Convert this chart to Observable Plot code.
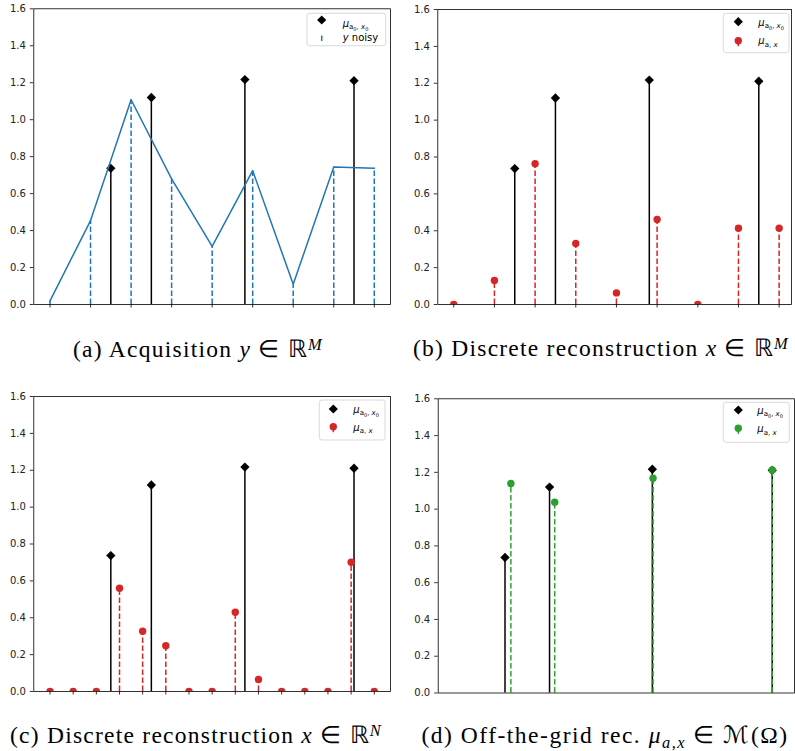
<!DOCTYPE html>
<html><head><meta charset="utf-8">
<script src="https://cdn.jsdelivr.net/npm/d3@7"></script>
<script src="https://cdn.jsdelivr.net/npm/@observablehq/plot@0.6"></script>
<style>
body{margin:0;background:#fff;}
#fig{position:relative;width:795px;height:751px;background:#fff;overflow:hidden;}
.panel{position:absolute;}
.cap{position:absolute;font-family:"Liberation Serif","Times New Roman",serif;font-size:23.5px;line-height:23.5px;white-space:nowrap;color:#000;}
.cap .sup{position:relative;top:-0.45em;font-size:0.7em;}
.cap .sub{position:relative;top:0.3em;font-size:0.7em;}
.cap .bl{display:inline-block;width:0;height:0;vertical-align:baseline;}
</style></head><body><div id="fig"></div>
<script>
// ---- data ----
const gridM = [0, 0.125, 0.25, 0.375, 0.5, 0.625, 0.75, 0.875, 1];
const gridN = [0, 0.0714, 0.1429, 0.2143, 0.2857, 0.3571, 0.4286, 0.5, 0.5714, 0.6429, 0.7143, 0.7857, 0.8571, 0.9286, 1];
const spikePos = [0.1875, 0.3125, 0.601, 0.9375];
const spikeAmp = [0.737, 1.12, 1.217, 1.211];
const yNoisy = [0.02, 0.454, 1.108, 0.68, 0.315, 0.724, 0.11, 0.744, 0.737];
const recM = [0, 0.13, 0.763, 0.331, 0.063, 0.461, 0, 0.414, 0.414];
const recN = [0, 0, 0, 0.56, 0.327, 0.248, 0, 0, 0.43, 0.065, 0, 0, 0, 0.701, 0];
const offPos = [0.204, 0.327, 0.603, 0.9375];
const offAmp = [1.139, 1.038, 1.168, 1.213];
const yTicks = [0, 0.2, 0.4, 0.6, 0.8, 1.0, 1.2, 1.4, 1.6];
const captionHTML = [
  '(a) Acquisition <i>y</i> ∈ ℝ<span class="sup"><i>M</i></span>',
  '(b) Discrete reconstruction <i>x</i> ∈ ℝ<span class="sup"><i>M</i></span>',
  '(c) Discrete reconstruction <i>x</i> ∈ ℝ<span class="sup"><i>N</i></span>',
  '(d) Off-the-grid rec. <i>μ</i><span class="sub"><i>a</i>,<i>x</i></span> ∈ ℳ(Ω)'
];

const BLUE = "#1f77b4", RED = "#d62728", GREEN = "#2ca02c";
const zip = (xs, vs) => xs.map((x, i) => ({x, v: vs[i]}));
const truth = zip(spikePos, spikeAmp);
const acq = zip(gridM, yNoisy);
const rM = zip(gridM, recM);
const rN = zip(gridN, recN);
const off = zip(offPos, offAmp);
const DASH = "5.5,2.5";

const fig = document.getElementById("fig");

function truthMarks() {
  return [
    Plot.ruleX(truth, {x: "x", y1: 0, y2: "v", stroke: "#000", strokeWidth: 1.5}),
    Plot.dot(truth, {x: "x", y: "v", symbol: "diamond2", fill: "#000", stroke: "none", r: 4.2, clip: true})
  ];
}
function recMarks(data, color) {
  return [
    Plot.ruleX(data, {x: "x", y1: 0, y2: "v", stroke: color, strokeWidth: 1.5, strokeDasharray: DASH}),
    Plot.dot(data, {x: "x", y: "v", fill: color, stroke: "none", r: 3.7, clip: true})
  ];
}

function panel({left, top, width, height, m, xDomain, xTicks, marks}) {
  const chart = Plot.plot({
    width, height,
    marginTop: m[0], marginRight: m[1], marginBottom: m[2], marginLeft: m[3],
    style: {fontFamily: "'DejaVu Sans', sans-serif", fontSize: "10px", color: "#000", background: "transparent"},
    x: xTicks ? {domain: xDomain, label: null} : {domain: xDomain, label: null, axis: null},
    y: {domain: [0, 1.6], label: null},
    marks: [
      Plot.axisY({ticks: yTicks, tickFormat: d3.format(".1f"), tickSize: 3.5, tickPadding: 4.5, strokeWidth: 0.8, label: null, fill: "#222"}),
      xTicks ? Plot.axisX({ticks: xTicks, tickFormat: () => "", tickSize: 3.5, strokeWidth: 0.8, label: null}) : null,
      ...marks,
      Plot.frame({stroke: "#000", strokeWidth: 0.8})
    ]
  });
  chart.classList.add("panel");
  chart.style.left = left + "px";
  chart.style.top = top + "px";
  fig.appendChild(chart);
  return chart;
}

function muTrue(t) {
  t.append("tspan").attr("font-style", "italic").text("μ");
  t.append("tspan").attr("font-size", 7).attr("dy", 2.5).text("a");
  t.append("tspan").attr("font-size", 5).attr("dy", 1.5).text("0");
  t.append("tspan").attr("font-size", 7).attr("dy", -1.5).text(", ");
  t.append("tspan").attr("font-size", 7).attr("font-style", "italic").text("x");
  t.append("tspan").attr("font-size", 5).attr("dy", 1.5).text("0");
}
function muRec(t) {
  t.append("tspan").attr("font-style", "italic").text("μ");
  t.append("tspan").attr("font-size", 7).attr("dy", 2.5).text("a");
  t.append("tspan").attr("font-size", 7).text(", ");
  t.append("tspan").attr("font-size", 7).attr("font-style", "italic").text("x");
}
function yNoisyLabel(t) {
  t.append("tspan").attr("font-style", "italic").text("y");
  t.append("tspan").text(" noisy");
}

function legend(svg, box, hx, tx, items) {
  const g = d3.select(svg).append("g").attr("font-family", "'DejaVu Sans', sans-serif").attr("font-size", 10).attr("text-anchor", "start");
  g.append("rect").attr("x", box[0]).attr("y", box[1]).attr("width", box[2]).attr("height", box[3])
    .attr("rx", 2.5).attr("fill", "#fff").attr("fill-opacity", 0.8).attr("stroke", "#d0d0d0").attr("stroke-width", 0.8);
  for (const it of items) {
    const cy = it.cy;
    if (it.kind === "diamond") {
      g.append("path").attr("d", `M${hx},${cy - 4.6}L${hx + 4.6},${cy}L${hx},${cy + 4.6}L${hx - 4.6},${cy}Z`).attr("fill", "#000");
    } else if (it.kind === "bar") {
      g.append("line").attr("x1", hx).attr("x2", hx).attr("y1", cy - 2.7).attr("y2", cy + 2.7)
        .attr("stroke", it.color).attr("stroke-width", 1.5);
    } else {
      g.append("line").attr("x1", hx).attr("x2", hx).attr("y1", cy).attr("y2", cy + 5.5)
        .attr("stroke", it.color).attr("stroke-width", 1.5);
      g.append("circle").attr("cx", hx).attr("cy", cy).attr("r", 3.7).attr("fill", it.color);
    }
    const t = g.append("text").attr("x", tx).attr("y", it.base).attr("fill", "#000").attr("text-anchor", "start");
    it.label(t);
  }
}

// (a)
const A = panel({left: 0, top: 0, width: 397, height: 320, m: [8.3, 7, 16, 33.3], xDomain: [-0.05, 1.05], xTicks: gridM,
  marks: [
    ...truthMarks(),
    Plot.ruleX(acq, {x: "x", y1: 0, y2: "v", stroke: BLUE, strokeWidth: 1.5, strokeDasharray: DASH}),
    Plot.line(acq, {x: "x", y: "v", stroke: BLUE, strokeWidth: 1.5})
  ]});
legend(A, [307, 13.3, 78.7, 32.4], 321.7, 342.7, [
  {kind: "diamond", cy: 20, base: 26.5, label: muTrue},
  {kind: "bar", color: BLUE, cy: 38.3, base: 40.7, label: yNoisyLabel}
]);

// (b)
const B = panel({left: 400, top: 0, width: 395, height: 320, m: [9, 4, 16, 37.3], xDomain: [-0.049, 1.038], xTicks: gridM,
  marks: [...truthMarks(), ...recMarks(rM, RED)]});
legend(B, [323.3, 13.3, 65.7, 39.4], 338.3, 358.3, [
  {kind: "diamond", cy: 21.7, base: 25.5, label: muTrue},
  {kind: "dot", color: RED, cy: 40.7, base: 44.3, label: muRec}
]);

// (c)
const C = panel({left: 0, top: 385, width: 397, height: 320, m: [11, 7, 14, 33.3], xDomain: [-0.05, 1.05], xTicks: gridN,
  marks: [...truthMarks(), ...recMarks(rN, RED)]});
legend(C, [319.3, 15, 65.7, 40], 333.3, 353.3, [
  {kind: "diamond", cy: 24, base: 27.8, label: muTrue},
  {kind: "dot", color: RED, cy: 41.7, base: 45.5, label: muRec}
]);

// (d)
const D = panel({left: 400, top: 385, width: 395, height: 320, m: [13.3, 1, 12.5, 37.7], xDomain: [0, 1], xTicks: null,
  marks: [...truthMarks(), ...recMarks(off, GREEN)]});
legend(D, [323.3, 17.3, 66, 40], 338.3, 357.3, [
  {kind: "diamond", cy: 25, base: 28.8, label: muTrue},
  {kind: "dot", color: GREEN, cy: 43.3, base: 47, label: muRec}
]);

// captions: center x, baseline y, target width
const capLayout = [[198, 357, 250], [601, 356, 376], [196, 743, 372], [605, 743, 367]];
captionHTML.forEach((html, i) => {
  const [cx, base, tw] = capLayout[i];
  const d = document.createElement("div");
  d.className = "cap";
  d.innerHTML = html + '<span class="bl"></span>';
  d.style.left = "0px"; d.style.top = "0px";
  fig.appendChild(d);
  const n = d.textContent.length;
  const w0 = d.getBoundingClientRect().width;
  d.style.letterSpacing = ((tw - w0) / n) + "px";
  const w = d.getBoundingClientRect().width;
  const figTop = fig.getBoundingClientRect().top;
  const bl = d.querySelector(".bl").getBoundingClientRect().top - figTop;
  d.style.left = (cx - w / 2) + "px";
  d.style.top = (base - bl) + "px";
});
</script>
</body></html>
